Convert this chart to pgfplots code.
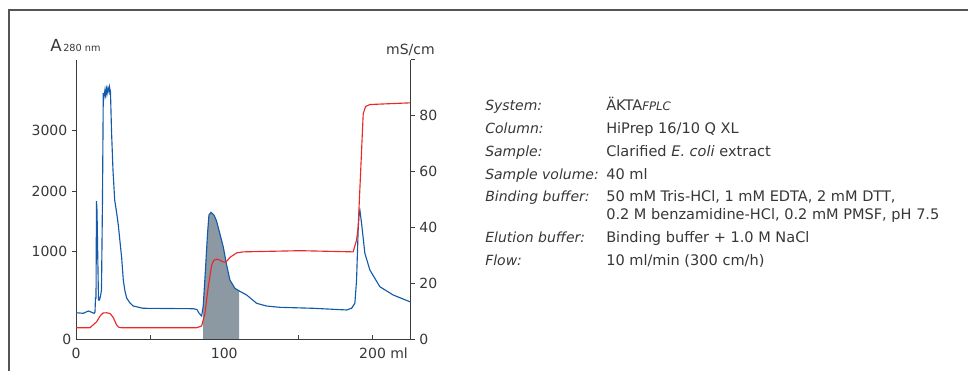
\documentclass[border=0pt]{standalone}
\usepackage{fontspec}
\setmainfont{DejaVu Sans}
\usepackage{pgfplots}
\usepackage{pgfplotstable}
\pgfplotsset{compat=1.18}
\definecolor{txt}{RGB}{55,55,55}
\definecolor{axc}{RGB}{60,60,60}
\definecolor{curveblue}{RGB}{20,90,170}
\definecolor{curvered}{RGB}{235,40,40}
\definecolor{fillgray}{RGB}{140,152,162}
\definecolor{framec}{RGB}{85,85,85}

\pgfplotstableread{
x y
0 -5
4.92 -15
8.29 23
10.11 7
12.13 -15
12.81 7
13.14 237
13.5 237
13.82 1835
14.16 1687
15.17 204
15.84 204
16.52 270
17.19 369
17.86 1852
18.40 3614
18.87 3549
19.55 3664
19.89 3581
20.56 3680
20.90 3598
21.57 3697
22.24 3631
22.58 3713
23.26 3631
23.93 3005
24.94 2346
26.09 1852
27.43 1638
28.52 1440
30.81 896
31.89 534
33.0 353
34.18 237
36.40 155
38.64 105
45.16 68
63.36 64
78.87 61
81.56 48
82.91 -10
84.73 -59
85.8 105
87.29 699
88.64 1275
89.65 1605
90.99 1649
93.02 1605
94.71 1511
96.73 1325
99.29 1082
101.58 781
103.81 534
107.18 397
110.08 353
115.07 287
121.81 150
128.55 105
137.51 84
159.96 68
182.47 40
185.84 68
188.07 150
189.21 534
190.29 1357
190.97 1654
191.44 1687
192.59 1468
194.81 974
198.18 699
204.92 423
213.89 287
225.15 176
}\absdata

\pgfplotstableread{
x y
85.8 -438
85.8 105
87.29 699
88.64 1275
89.65 1605
90.99 1649
93.02 1605
94.71 1511
96.73 1325
99.29 1082
101.58 781
103.81 534
107.18 397
110.08 353
110.08 -438
}\filldata

\pgfplotstableread{
x y
0 4.04
9.44 4.04
13.95 6.18
16.18 8.2
18.2 9.3
20.69 9.39
22.92 9.1
24.94 7.86
27.43 5.0
28.99 4.18
30.81 4.04
81.36 4.04
84.73 4.64
86.96 9.18
89.18 18.68
91.47 26.43
93.02 28.2
94.84 28.57
97.07 28.2
99.09 27.6
101.11 27.5
103.81 29.18
108.32 30.82
112.77 31.18
150.99 31.6
186.92 31.18
189.2 35.4
190.3 40.1
192.1 61.5
193.7 80.6
195.3 83.2
198.2 83.9
225.1 84.5
}\conddata

\pgfplotsset{
  base/.style={
    scale only axis, width=251pt, height=209.6pt,
    at={(57pt,24pt)}, anchor=south west,
    xmin=0, xmax=225.7,
    axis line style={axc, line width=0.7pt},
    every tick/.style={axc, line width=0.7pt},
    major tick length=3pt,
    tick align=outside,
    tick label style={font=\fontsize{10.5}{12}\selectfont, text=txt},
    /pgf/number format/assume math mode=true,
    /pgf/number format/1000 sep={},
  }
}

\begin{document}
\begin{tikzpicture}
\useasboundingbox (0,0) rectangle (726pt,278.25pt);
\draw[framec, line width=1.1pt] (6.75pt,-2pt) -- (6.75pt,270.75pt) -- (730pt,270.75pt);

\begin{axis}[base,
  axis x line*=bottom, axis y line*=left,
  ymin=-438, ymax=4166,
  xtick={0,50,100,150,200}, xticklabels={0,,100,,200\rlap{ ml}},
  xtick style={yshift=3pt},
  ytick={1000,2000,3000},
  extra y ticks={-438}, extra y tick labels={0},
  extra y tick style={major tick length=0pt},
]
\addplot[fill=fillgray, draw=none] table {\filldata};
\addplot[curveblue, line width=0.85pt] table {\absdata};
\end{axis}

\begin{axis}[base,
  axis x line=none, axis y line*=right,
  ymin=0, ymax=100,
  ytick={0,20,40,60,80,100}, yticklabels={0,20,40,60,80,},
]
\addplot[curvered, line width=0.85pt] table {\conddata};
\end{axis}

\node[anchor=base west, inner sep=0pt, text=txt] at (37.5pt,239.5pt)
  {{\fontsize{12.5}{14}\selectfont A}{\fontsize{7.3}{9}\selectfont\,280 nm}};
\node[anchor=base east, inner sep=0pt, text=txt, font=\fontsize{10.5}{12}\selectfont] at (326.25pt,237pt) {mS/cm};

\begin{scope}[every node/.style={anchor=base west, inner sep=0pt, text=txt, font=\fontsize{10.5}{12}\selectfont}]
\node at (363.75pt,195pt) {\itshape System:};
\node at (363.75pt,177.98pt) {\itshape Column:};
\node at (363.75pt,160.95pt) {\itshape Sample:};
\node at (363.75pt,143.93pt) {\itshape Sample volume:};
\node at (363.75pt,126.9pt) {\itshape Binding buffer:};
\node at (363.75pt,96.38pt) {\itshape Elution buffer:};
\node at (363.75pt,79.35pt) {\itshape Flow:};
\end{scope}
\begin{scope}[every node/.style={anchor=base west, inner sep=0pt, text=txt, font=\fontsize{10.9}{12}\selectfont}]
\node at (454.5pt,195pt) {ÄKTA{\fontsize{8.8}{10}\selectfont\itshape FPLC}};
\node at (454.5pt,177.98pt) {HiPrep 16/10 Q XL};
\node at (454.5pt,160.95pt) {Clarified \textit{E. coli} extract};
\node at (454.5pt,143.93pt) {40 ml};
\node at (454.5pt,126.9pt) {50 mM Tris-HCl, 1 mM EDTA, 2 mM DTT,};
\node at (454.5pt,113.4pt) {0.2 M benzamidine-HCl, 0.2 mM PMSF, pH 7.5};
\node at (454.5pt,96.38pt) {Binding buffer + 1.0 M NaCl};
\node at (454.5pt,79.35pt) {10 ml/min (300 cm/h)};
\end{scope}
\end{tikzpicture}
\end{document}
